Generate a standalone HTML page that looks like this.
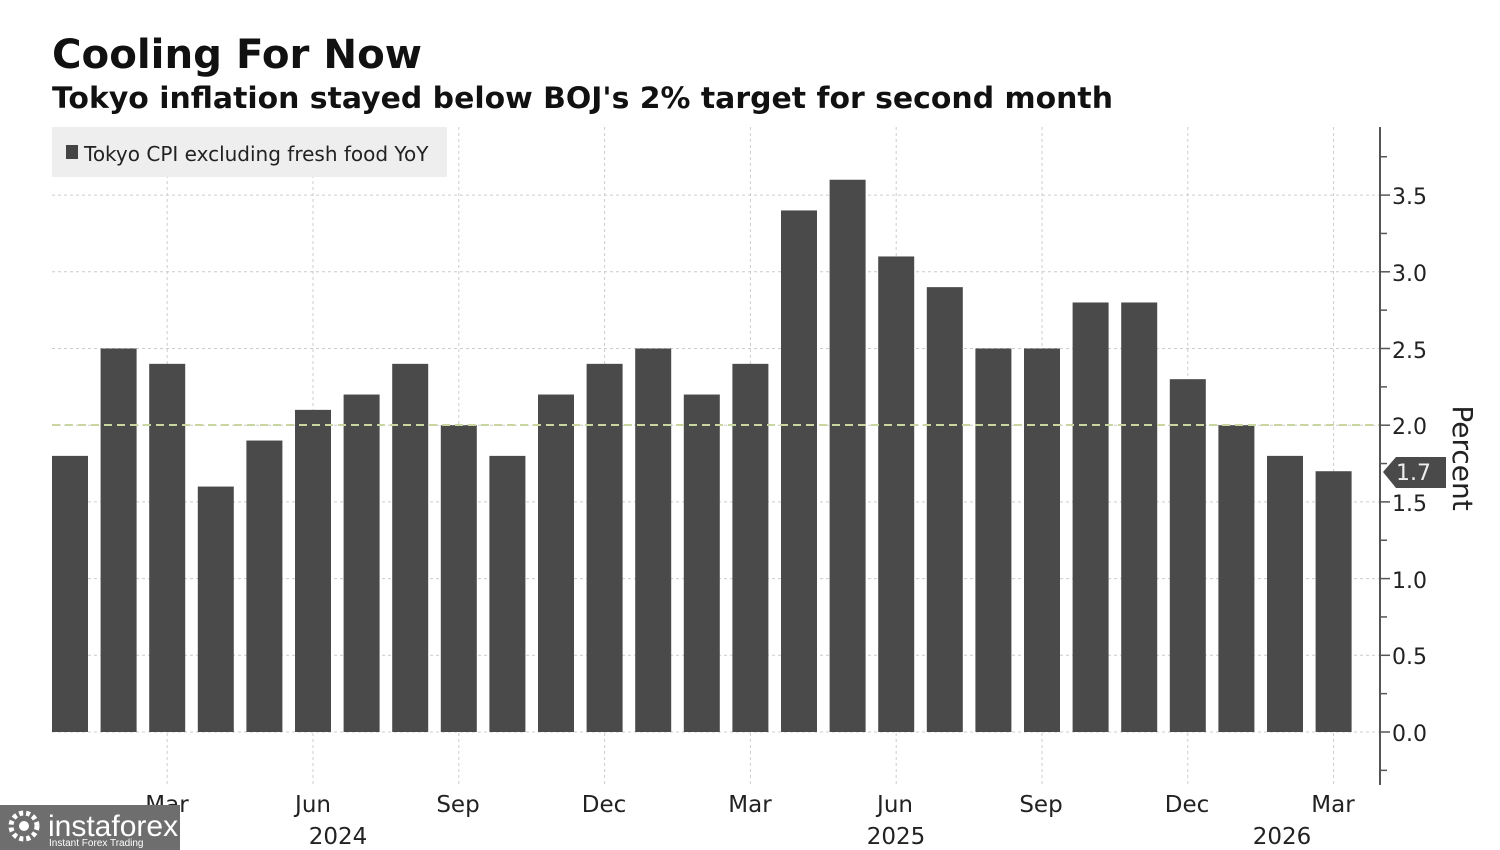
<!DOCTYPE html>
<html><head><meta charset="utf-8"><style>
html,body{margin:0;padding:0;background:#fff;}
body{width:1500px;height:850px;overflow:hidden;position:relative;font-family:"Liberation Sans","DejaVu Sans",sans-serif;}
</style></head><body>
<svg width="1500" height="850" xmlns="http://www.w3.org/2000/svg" style="position:absolute;left:0;top:0">
<text x="52" y="68" font-family="DejaVu Sans, sans-serif" font-weight="bold" font-size="40" fill="#111" textLength="370" lengthAdjust="spacingAndGlyphs">Cooling For Now</text>
<text x="52" y="108" font-family="DejaVu Sans, sans-serif" font-weight="bold" font-size="29" fill="#111" textLength="1061" lengthAdjust="spacingAndGlyphs">Tokyo inflation stayed below BOJ's 2% target for second month</text>
<g id="grid"></g>
<rect x="52" y="127" width="395" height="50" fill="#eeeeee"/>
<rect x="66" y="145" width="12" height="14" fill="#444"/>
<text x="84" y="161" font-family="DejaVu Sans, sans-serif" font-size="20" fill="#222">Tokyo CPI excluding fresh food YoY</text>
<g id="bars"></g>
<line x1="52" y1="425" x2="1380" y2="425" stroke="#c9d6a0" stroke-width="2" stroke-dasharray="8,5"/>
<line x1="1380" y1="127" x2="1380" y2="785" stroke="#555" stroke-width="2"/>
<g id="ticks"></g>
<g font-family="DejaVu Sans, sans-serif" font-size="22" fill="#222">
<text x="1392" y="204">3.5</text>
<text x="1392" y="281">3.0</text>
<text x="1392" y="358">2.5</text>
<text x="1392" y="434">2.0</text>
<text x="1392" y="511">1.5</text>
<text x="1392" y="588">1.0</text>
<text x="1392" y="664">0.5</text>
<text x="1392" y="741">0.0</text>
</g>
<polygon points="1383,472 1396,457 1446,457 1446,488 1396,488" fill="#4a4a4a"/>
<text x="1396" y="480" font-family="DejaVu Sans, sans-serif" font-size="22" fill="#eee">1.7</text>
<text transform="translate(1453,458) rotate(90)" text-anchor="middle" font-family="DejaVu Sans, sans-serif" font-size="28" fill="#222">Percent</text>
<g font-family="DejaVu Sans, sans-serif" font-size="23" fill="#222" text-anchor="middle">
<text x="167" y="812">Mar</text><text x="313" y="812">Jun</text><text x="458" y="812">Sep</text><text x="604" y="812">Dec</text>
<text x="750" y="812">Mar</text><text x="895" y="812">Jun</text><text x="1041" y="812">Sep</text><text x="1187" y="812">Dec</text><text x="1333" y="812">Mar</text>
<text x="338" y="844">2024</text><text x="896" y="844">2025</text><text x="1282" y="844">2026</text>
</g>
<rect x="0" y="805" width="180" height="45" fill="#6e6e6e"/>
<circle cx="24" cy="826" r="13" fill="none" stroke="#fff" stroke-width="5" stroke-dasharray="4,3"/>
<circle cx="24" cy="826" r="5" fill="#fff"/>
<text x="48" y="836" font-family="Liberation Sans, sans-serif" font-size="30" fill="#fff">instaforex</text>
<text x="49" y="846" font-family="Liberation Sans, sans-serif" font-size="10" fill="#fff">Instant Forex Trading</text>
</svg>
<script>
var ns="http://www.w3.org/2000/svg";
function el(p,t,a){var e=document.createElementNS(ns,t);for(var k in a)e.setAttribute(k,a[k]);document.getElementById(p).appendChild(e);}
var v=[1.8,2.5,2.4,1.6,1.9,2.1,2.2,2.4,2.0,1.8,2.2,2.4,2.5,2.2,2.4,3.4,3.6,3.1,2.9,2.5,2.5,2.8,2.8,2.3,2.0,1.8,1.7];
var y0=732,k=153.4,step=48.6;
for(var i=0;i<=7;i++){var y=y0-i*0.5*k;el("grid","line",{x1:52,x2:1380,y1:y,y2:y,stroke:"#ccc","stroke-dasharray":"3,3"});}
for(var m=2;m<27;m+=3){var x=52+m*step+18;el("grid","line",{x1:x,x2:x,y1:127,y2:785,stroke:"#ccc","stroke-dasharray":"3,3"});}
v.forEach(function(d,i){var h=d*k;el("bars","rect",{x:52+i*step,y:y0-h,width:36,height:h,fill:"#4a4a4a"});});
for(var j=-1;j<=15;j++){var y=y0-j*0.25*k;if(y<127)continue;el("ticks","line",{x1:1380,x2:j%2==0?1390:1387,y1:y,y2:y,stroke:"#555","stroke-width":1.5});}
</script>
</body></html>
